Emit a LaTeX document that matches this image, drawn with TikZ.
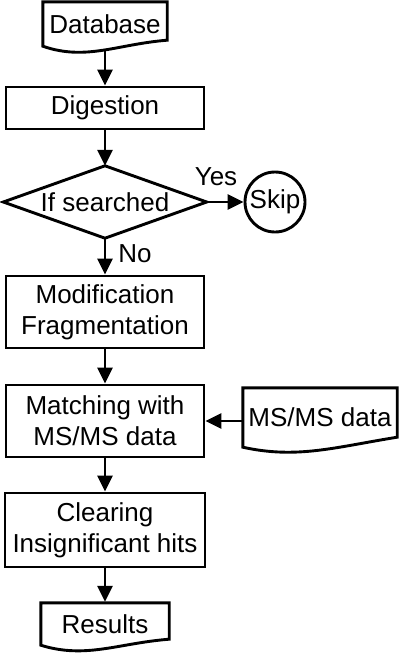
\documentclass[tikz,border=0pt]{standalone}
\usepackage{fontspec}
\setmainfont{Liberation Sans}
\usetikzlibrary{arrows.meta}
\begin{document}
\begin{tikzpicture}[x=1pt,y=-1pt,
  lw/.style={line width=2.9pt, line join=miter},
  txt/.style={font=\fontsize{26}{31}\selectfont, align=center},
  proc/.style={draw, lw, txt, rectangle, inner sep=0pt, minimum width=198pt},
  docn/.style={txt, rectangle, inner sep=0pt},
  arr/.style={lw, -{Triangle[length=16pt,width=15pt]}}
]
\useasboundingbox (0,0) rectangle (400,656);

% documents
\node[docn, minimum width=124pt, minimum height=44pt] (db) at (105,24) {Database};
\draw[lw] (db.north west) -- (db.north east) -- ([yshift=6pt]db.south east)
  .. controls ([xshift=12pt,yshift=2pt]db.south) and ([xshift=-19pt,yshift=-15pt]db.south) .. (db.south west) -- cycle;

\node[docn, minimum width=154pt, minimum height=59pt] (ms) at (320,417.5) {MS/MS data};
\draw[lw] (ms.north west) -- (ms.north east) -- ([yshift=10pt]ms.south east)
  .. controls ([xshift=15pt,yshift=0pt]ms.south) and ([xshift=-23pt,yshift=-12pt]ms.south) .. (ms.south west) -- cycle;

\node[docn, minimum width=128pt, minimum height=42pt] (res) at (105,624) {\raisebox{-3pt}{Results}};
\draw[lw] (res.north west) -- (res.north east) -- ([yshift=6pt]res.south east)
  .. controls ([xshift=13pt,yshift=2pt]res.south) and ([xshift=-19pt,yshift=-14pt]res.south) .. (res.south west) -- cycle;

% process boxes
\node[proc, minimum height=42pt] (dig) at (105,108) {Digestion};
\node[proc, minimum height=72pt] (mod) at (105,312) {Modification\\Fragmentation};
\node[proc, minimum height=72pt] (mat) at (105,421) {Matching with\\MS/MS data};
\node[proc, minimum width=200pt, minimum height=74pt] (clr) at (105,530) {Clearing\\Insignificant hits};

% decision
\node[txt, rectangle, inner sep=0pt, minimum width=203pt, minimum height=72pt] (ds) at (105,202) {If searched};
\draw[lw] (ds.north) -- (ds.east) -- (ds.south) -- (ds.west) -- cycle;

\node[txt, draw, lw, circle, inner sep=0pt, minimum size=60pt] (skip) at (275,202) {Skip};

% labels
\node[txt] (yes) at (216,177) {Yes};
\node[txt] (no) at (135,254) {No};

% connectors
\draw[arr] ([yshift=-5pt]db.south) -- (dig.north);
\draw[arr] (dig.south) -- (ds.north);
\draw[arr] (ds.east) -- (skip.west);
\draw[arr] (ds.south) -- (mod.north);
\draw[arr] (mod.south) -- (mat.north);
\draw[arr] (ms.west |- mat.east) -- (mat.east);
\draw[arr] (mat.south) -- (clr.north);
\draw[arr] (clr.south) -- ([yshift=1pt]res.north);
\end{tikzpicture}
\end{document}
